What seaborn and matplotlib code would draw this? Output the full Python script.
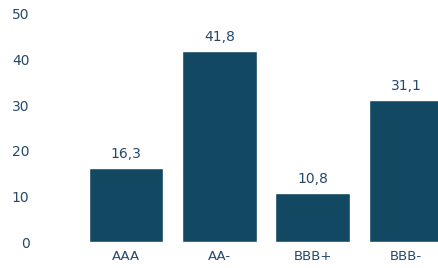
import pandas as pd
import matplotlib.pyplot as plt
import seaborn as sns

# ratings and values
ratings = ["AAA", "AA-", "BBB+", "BBB-"]
values = [16.3, 41.8, 10.8, 31.1]
y_ticks = [0, 10, 20, 30, 40, 50]

bar_color = "#134862"
text_color = "#24496b"

sns.set_style("white")
plt.rcParams["font.family"] = ["DejaVu Sans"]

df = pd.DataFrame({"rating": ratings, "value": values})

fig = plt.figure(figsize=(4.38, 2.68), dpi=100)
# axes run past the right edge so the last bar gets clipped like the original
ax = fig.add_axes([79.4 / 438, 26 / 268, (452.6 - 79.4) / 438, 228 / 268])

sns.barplot(data=df, x="rating", y="value", color=bar_color, saturation=1,
            width=0.8, ax=ax)

ax.set_xlim(-0.5, 3.5)
ax.set_ylim(0, 50)
ax.set_yticks(y_ticks)
ax.set_xlabel("")
ax.set_ylabel("")
sns.despine(ax=ax, left=True, bottom=True)

ax.tick_params(axis="y", length=0, pad=36, labelsize=10, labelcolor=text_color)
ax.tick_params(axis="x", length=0, pad=6, labelsize=9.5, labelcolor=text_color)
for lbl in ax.get_yticklabels():
    lbl.set_horizontalalignment("right")

labels = [f"{v:.1f}".replace(".", ",") for v in values]
ax.bar_label(ax.containers[0], labels=labels, padding=5, fontsize=10,
             color=text_color)

fig.savefig("out.png", dpi=100)
